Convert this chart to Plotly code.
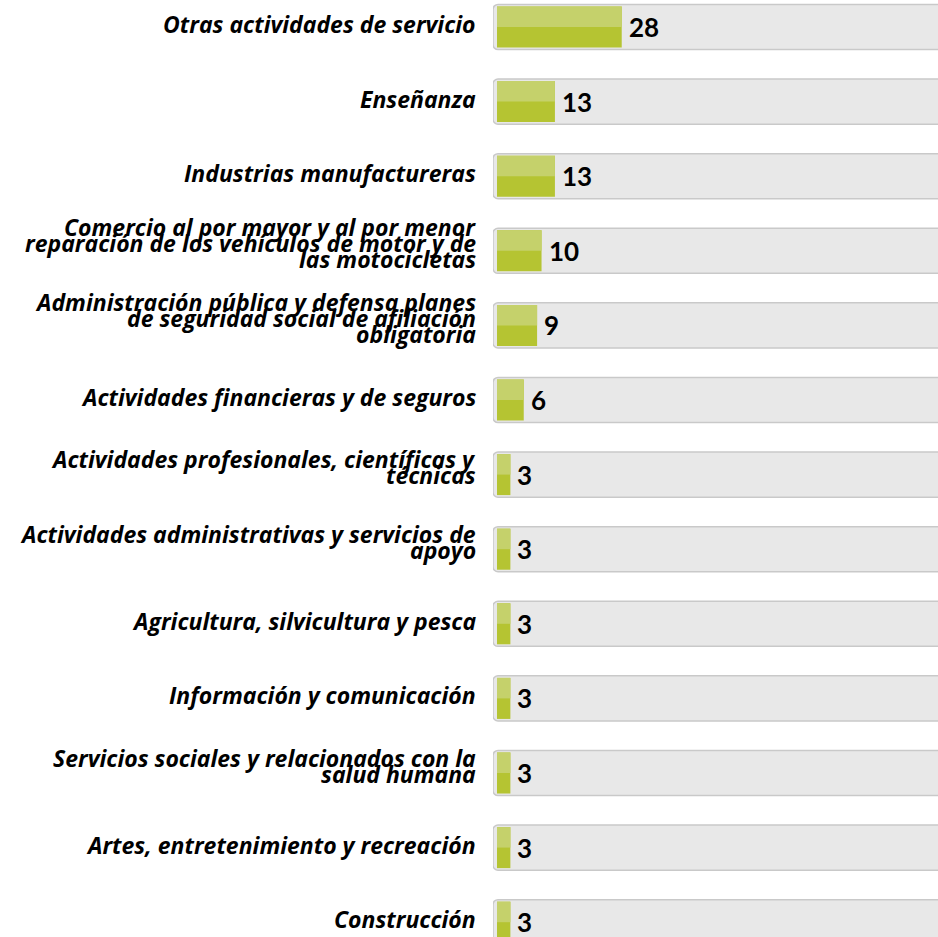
import plotly.graph_objects as go

categories = [
    "Otras actividades de servicio",
    "Enseñanza",
    "Industrias manufactureras",
    "Comercio al por mayor y al por menor\nreparación de los vehículos de motor y de\nlas motocicletas",
    "Administración pública y defensa planes\nde seguridad social de afiliación\nobligatoria",
    "Actividades financieras y de seguros",
    "Actividades profesionales, científicas y\ntécnicas",
    "Actividades administrativas y servicios de\napoyo",
    "Agricultura, silvicultura y pesca",
    "Información y comunicación",
    "Servicios sociales y relacionados con la\nsalud humana",
    "Artes, entretenimiento y recreación",
    "Construcción",
]
values = [28, 13, 13, 10, 9, 6, 3, 3, 3, 3, 3, 3, 3]
scale_max = 100

n = len(categories)
pos = list(range(n))

fig = go.Figure()
# background track
fig.add_trace(go.Bar(
    y=pos, x=[scale_max + 3] * n, base=-0.9, orientation="h", width=0.605,
    marker=dict(color="#e8e8e8", line=dict(color="#c9c9c9", width=1.5), cornerradius=5),
    hoverinfo="skip", showlegend=False,
))
# green bar (full, darker)
fig.add_trace(go.Bar(
    y=pos, x=values, orientation="h", width=0.55,
    marker=dict(color="#b5c432", line=dict(width=0)),
    showlegend=False,
))
# green bar top half (lighter)
fig.add_trace(go.Bar(
    y=pos, x=values, orientation="h", width=0.275, offset=-0.275,
    marker=dict(color="#c5d16b", line=dict(width=0)),
    hoverinfo="skip", showlegend=False,
))

annotations = []
fs = 23
label_font = dict(family="Open Sans", size=fs, color="#000000", weight="bold", style="italic")
line_h = 16
for i, (cat, v) in enumerate(zip(categories, values)):
    lines = cat.split("\n")
    m = len(lines)
    base_off = 0.388 * fs
    mean_base = 6 if m == 1 else 1.5
    for j, ln in enumerate(lines):
        baseline = mean_base + (j - (m - 1) / 2) * line_h
        annotations.append(dict(
            x=-0.9, y=i, xref="x", yref="y", text=ln, showarrow=False,
            xanchor="right", yanchor="middle", xshift=-15,
            yshift=-(baseline - base_off),
            font=label_font,
        ))
    annotations.append(dict(
        x=v, y=i, xref="x", yref="y", text=str(v), showarrow=False,
        xanchor="left", yanchor="middle", xshift=5, yshift=0,
        font=dict(family="Lato", size=26, color="#000000", weight="bold"),
    ))

k = 74.6
a = -27 / k
b = a + 937 / k
fig.update_layout(
    width=938, height=937,
    margin=dict(l=493, r=0, t=0, b=0),
    paper_bgcolor="#ffffff", plot_bgcolor="#ffffff",
    barmode="overlay",
    xaxis=dict(range=[-0.9, 99], visible=False, fixedrange=True),
    yaxis=dict(range=[b, a], visible=False, fixedrange=True),
    annotations=annotations,
)

fig.write_html(
    "out.html",
    config={"displayModeBar": False},
    post_script="document.body.style.margin='0';document.body.style.overflow='hidden';",
)
